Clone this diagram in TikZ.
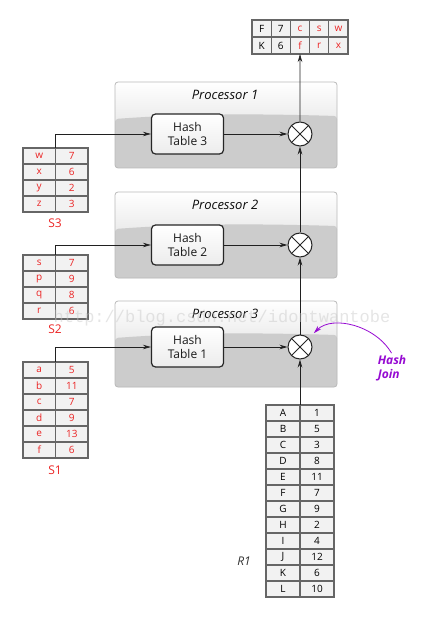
\documentclass[tikz,border=0pt]{standalone}
\usepackage{fontspec}
\setmainfont{Open Sans}
\newfontfamily\wmfont{Liberation Mono}
\usetikzlibrary{arrows.meta,positioning,calc}

\definecolor{cellred}{RGB}{235,35,35}
\definecolor{hjpurple}{RGB}{150,10,210}

\tikzset{
  cell/.style={draw=gray!80!black, fill=gray!10, line width=1.1pt, minimum width=32.5pt,
    minimum height=16pt, inner sep=0pt, outer sep=0pt, font=\fontsize{10}{11}\selectfont},
  redcell/.style={text=cellred},
  tcell/.style={cell, minimum width=19.2pt, minimum height=17pt},
  proc/.style={draw=gray!55, line width=0.8pt, rounded corners=3pt, minimum width=222pt,
    minimum height=86pt, inner sep=0pt, top color=white, bottom color=gray!35,
    path picture={
      \fill[gray!40] ([yshift=49pt]path picture bounding box.south west)
        .. controls ($(path picture bounding box.south west)+(80pt,55pt)$)
        and ($(path picture bounding box.south east)+(-70pt,54pt)$)
        .. ([yshift=52pt]path picture bounding box.south east)
        |- (path picture bounding box.south west) -- cycle;}},
  proctitle/.style={font=\itshape\fontsize{13}{15}\selectfont, text=gray!10!black},
  hashtab/.style={draw=gray!30!black, line width=1.2pt, rounded corners=4pt,
    top color=white, bottom color=gray!15, minimum width=72pt, minimum height=40pt,
    align=center, inner sep=1pt, font=\fontsize{12}{14}\selectfont, text=gray!20!black},
  joinop/.style={circle, draw=gray!30!black, line width=1pt, fill=white,
    minimum size=24pt, inner sep=0pt},
  joinline/.style={draw=gray!30!black, line width=0.9pt},
  link/.style={->, draw=gray!25!black, line width=0.7pt},
  slabel/.style={text=cellred, font=\fontsize{12}{14}\selectfont},
  hjlabel/.style={text=hjpurple, align=left, inner sep=1pt,
    font=\bfseries\itshape\fontsize{12}{14}\selectfont},
  hjlink/.style={->, draw=hjpurple, line width=0.8pt, shorten >=7pt, shorten <=1pt},
  watermark/.style={text=gray!45, opacity=0.45, font=\wmfont\fontsize{17}{19}\selectfont}
}

\begin{document}
\begin{tikzpicture}[x=1pt, y=1pt, >={Stealth[length=8pt,width=4.5pt]}]
  \useasboundingbox (0,0) rectangle (424,-617);

  % Processors {p1, p2, p3} with hash tables and joins
  \foreach \n/\tab/\ytop/\yc in {1/3/82/134, 2/2/192/245, 3/1/301/347} {
    \node [proc]      (p\n)  at (226,-\ytop-43)  {};
    \node [proctitle] (pt\n) at (225,-\ytop-13)  {Processor \n};
    \node [hashtab]   (h\tab) at (187.5,-\yc)    {Hash\\Table \tab};
    \node [joinop]    (j\n)  at (300,-\yc)       {};
    \draw [joinline] (j\n.north west) -- (j\n.south east)
                     (j\n.north east) -- (j\n.south west);
  }

  % Result table
  \foreach \txt/\col [count=\j] in {F/black,7/black,c/cellred,s/cellred,w/cellred}
    \node [tcell, text=\col] (ta\j) at (242.4+19.2*\j,-28.5) {\txt};
  \foreach \txt/\col [count=\j] in {K/black,6/black,f/cellred,r/cellred,x/cellred}
    \node [tcell, text=\col] (tb\j) at (242.4+19.2*\j,-45.5) {\txt};

  % Tables S3, S2, S1
  \foreach \k/\v [count=\i] in {w/7,x/6,y/2,z/3} {
    \node [cell, redcell] (s3k\i) at (39.25,-140-16*\i) {\k};
    \node [cell, redcell, right=0pt of s3k\i] (s3v\i) {\v};
  }
  \foreach \k/\v [count=\i] in {s/7,p/9,q/8,r/6} {
    \node [cell, redcell] (s2k\i) at (39.25,-247-16*\i) {\k};
    \node [cell, redcell, right=0pt of s2k\i] (s2v\i) {\v};
  }
  \foreach \k/\v [count=\i] in {a/5,b/11,c/7,d/9,e/13,f/6} {
    \node [cell, redcell] (s1k\i) at (39.25,-354-16*\i) {\k};
    \node [cell, redcell, right=0pt of s1k\i] (s1v\i) {\v};
  }
  \node [slabel] (s3lbl) at (55,-223) {S3};
  \node [slabel] (s2lbl) at (55,-329) {S2};
  \node [slabel] (s1lbl) at (55,-470) {S1};

  % Table R1
  \foreach \k/\v [count=\i] in {A/1,B/5,C/3,D/8,E/11,F/7,G/9,H/2,I/4,J/12,K/6,L/10} {
    \node [cell, minimum width=34pt] (rk\i) at (283,-397-16*\i) {\k};
    \node [cell, minimum width=34pt, right=0pt of rk\i] (rv\i) {\v};
  }
  \node [proctitle, font=\itshape\fontsize{12}{14}\selectfont, text=gray!40!black]
    (r1lbl) at (244,-561) {R1};

  % Paths
  \draw [link] (s3k1.north east) |- (h3.west);
  \draw [link] (s2k1.north east) |- (h2.west);
  \draw [link] (s1k1.north east) |- (h1.west);
  \draw [link] (h3) -- (j1);
  \draw [link] (h2) -- (j2);
  \draw [link] (h1) -- (j3);
  \draw [link] (rk1.north east) -- (j3);
  \draw [link] (j3) -- (j2);
  \draw [link] (j2) -- (j1);
  \draw [link] (j1) -- (tb3.south);

  % Hash join note
  \node [hjlabel] (hj) at (392,-368) {Hash\\Join};
  \draw [hjlink] (hj.north) to[out=120, in=45] (j3);

  % Watermark
  \node [watermark] (wm) at (222,-318) {http://blog.csdn.net/idontwantobe};
\end{tikzpicture}
\end{document}
